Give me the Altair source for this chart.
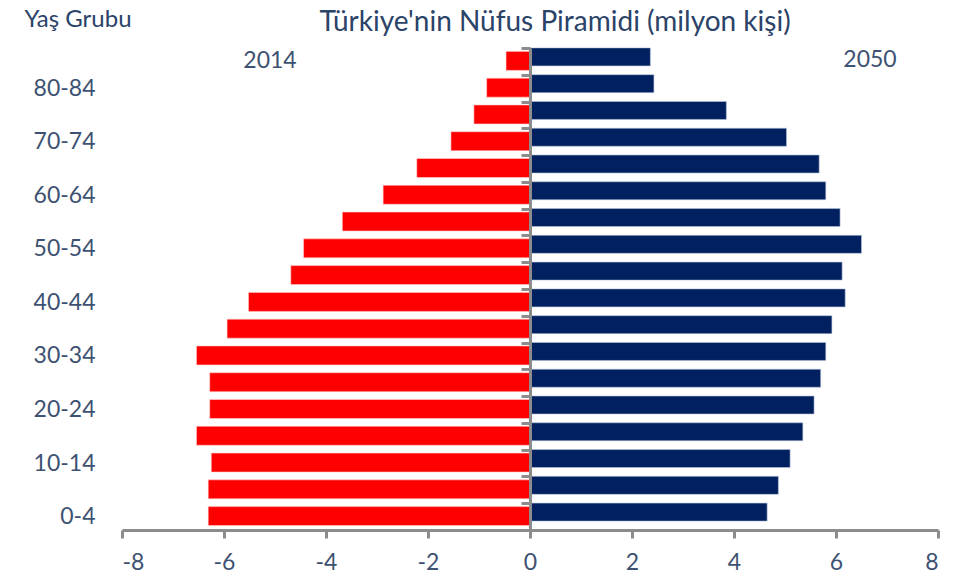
import altair as alt
import pandas as pd

age_groups = ["0-4", "5-9", "10-14", "15-19", "20-24", "25-29", "30-34", "35-39",
              "40-44", "45-49", "50-54", "55-59", "60-64", "65-69", "70-74",
              "75-79", "80-84", "85+"]
pop_2014 = [6.31, 6.31, 6.25, 6.54, 6.28, 6.28, 6.54, 5.94, 5.52, 4.69, 4.44,
            3.68, 2.88, 2.22, 1.55, 1.10, 0.85, 0.47]
pop_2050 = [4.65, 4.87, 5.10, 5.35, 5.57, 5.70, 5.80, 5.92, 6.18, 6.12, 6.50,
            6.08, 5.80, 5.67, 5.03, 3.85, 2.43, 2.36]
x_ticks = [-8, -6, -4, -2, 0, 2, 4, 6, 8]
shown_labels = ["0-4", "10-14", "20-24", "30-34", "40-44", "50-54", "60-64", "70-74", "80-84"]

title_text = "Türkiye'nin Nüfus Piramidi (milyon kişi)"
y_title_text = "Yaş Grubu"

FONT = "Lato"
TXT = "#3D5272"
GRAY = "#8C8C8C"

df14 = pd.DataFrame({"age": age_groups, "value": [-v for v in pop_2014]})
df50 = pd.DataFrame({"age": age_groups, "value": pop_2050})

order = list(reversed(age_groups))
label_list = "[" + ",".join("'" + s + "'" for s in shown_labels) + "]"

W, H = 816, 482

x_enc = alt.X("value:Q",
              scale=alt.Scale(domain=[-8, 8], nice=False, zero=True),
              axis=alt.Axis(values=x_ticks, title=None, grid=False,
                            domainColor=GRAY, domainWidth=3,
                            tickColor=GRAY, tickWidth=3, tickSize=8,
                            labelFont=FONT, labelFontSize=23, labelColor=TXT,
                            labelPadding=13, labelExpr="datum.value + ''",
                            zindex=1))
y_enc = alt.Y("age:N", sort=order,
              scale=alt.Scale(domain=order, paddingInner=0, paddingOuter=0),
              axis=alt.Axis(title=None, offset=-408, tickBand="extent",
                            domainColor=GRAY, domainWidth=3,
                            tickColor=GRAY, tickWidth=3, tickSize=9,
                            labelFont=FONT, labelFontSize=23, labelColor=TXT,
                            labelPadding=426,
                            labelExpr="indexof(" + label_list + ", datum.value) >= 0 ? datum.value : ''",
                            zindex=1))

bars14 = alt.Chart(df14).mark_bar(color="#FF0000", size=19, yOffset=-0.5,
                                  stroke="#FFD0D0", strokeWidth=0.6).encode(x=x_enc, y=y_enc)
bars50 = alt.Chart(df50).mark_bar(color="#002060", size=18, yOffset=-4.5,
                                  stroke="#B8C4DA", strokeWidth=0.6).encode(x=x_enc, y=y_enc)

ox, oy = 122, 48  # plot origin on page


def label(txt, px, py, size, color=TXT, baseline="middle"):
    return alt.Chart(pd.DataFrame({"t": [txt]})).mark_text(
        font=FONT, fontSize=size, color=color, align="center", baseline=baseline
    ).encode(text="t:N", x=alt.value(px - ox), y=alt.value(py - oy))


title = label(title_text, 555, 31, 28, color="#2B4369", baseline="alphabetic")
ytitle = label(y_title_text, 78, 27, 24, color="#2B4369", baseline="alphabetic")
lab14 = label("2014", 270, 61, 23)
lab50 = label("2050", 870, 60, 23)

chart = alt.layer(bars14, bars50, title, ytitle, lab14, lab50).properties(
    width=W, height=H,
    autosize=alt.AutoSizeParams(type="none"),
    padding={"left": ox - 8, "top": oy - 8, "right": 20, "bottom": 50},
).configure_view(stroke=None)

chart.save("out.html", embed_options={"renderer": "svg", "actions": False})
